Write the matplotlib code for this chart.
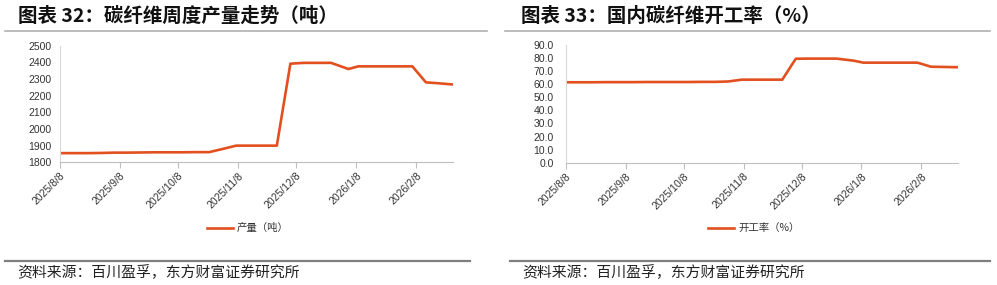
import matplotlib
matplotlib.use("Agg")
import matplotlib.pyplot as plt
import matplotlib.dates as mdates
from matplotlib.lines import Line2D
import datetime as dt

plt.rcParams['font.family'] = ['Liberation Sans', 'Noto Sans CJK SC', 'DejaVu Sans']

dates = ["2025-08-08", "2025-08-15", "2025-08-22", "2025-08-29", "2025-09-05", "2025-09-12",
         "2025-09-19", "2025-09-26", "2025-10-03", "2025-10-10", "2025-10-17", "2025-10-24",
         "2025-10-31", "2025-11-07", "2025-11-14", "2025-11-21", "2025-11-28", "2025-12-05",
         "2025-12-12", "2025-12-19", "2025-12-26", "2026-01-04", "2026-01-09", "2026-01-16",
         "2026-01-23", "2026-01-30", "2026-02-06", "2026-02-13", "2026-02-20", "2026-02-27"]

output_tons = [1855, 1855, 1855, 1856, 1858, 1858, 1859, 1860, 1860, 1860, 1861, 1861,
               1880, 1900, 1900, 1900, 1900, 2392, 2397, 2397, 2397, 2360, 2376, 2376,
               2376, 2376, 2376, 2280, 2274, 2267]

utilization = [61.5, 61.5, 61.5, 61.6, 61.6, 61.6, 61.7, 61.7, 61.7, 61.7, 61.8, 61.8,
               62.1, 63.5, 63.5, 63.5, 63.5, 79.5, 79.6, 79.6, 79.6, 78.0, 76.5, 76.5,
               76.5, 76.5, 76.5, 73.4, 73.2, 73.0]

tick_dates = ["2025-08-08", "2025-09-08", "2025-10-08", "2025-11-08", "2025-12-08",
              "2026-01-08", "2026-02-08"]
tick_labels = ["2025/8/8", "2025/9/8", "2025/10/8", "2025/11/8", "2025/12/8",
               "2026/1/8", "2026/2/8"]

left_yticks = [1800, 1900, 2000, 2100, 2200, 2300, 2400, 2500]
right_yticks = [0, 10, 20, 30, 40, 50, 60, 70, 80, 90]

title_left = "图表 32：碳纤维周度产量走势（吨）"
title_right = "图表 33：国内碳纤维开工率（%）"
legend_left = "产量（吨）"
legend_right = "开工率（%）"
source = "资料来源：百川盈孚，东方财富证券研究所"

LINE_COLOR = "#E2501F"
W, H = 997, 285

fig = plt.figure(figsize=(W / 100, H / 100), dpi=100)
fig.patch.set_facecolor("white")


def fx(x):
    return x / W


def fy(y):
    return 1 - y / H


def to_dt(s):
    return dt.datetime.strptime(s, "%Y-%m-%d")


xd = [to_dt(d) for d in dates]
tks = [mdates.date2num(to_dt(d)) for d in tick_dates]


def make_panel(x0, x1, ytop, ybot, values, yticks, ylabels, legend_text, legend_x0, ypad):
    ax = fig.add_axes([fx(x0), fy(ybot), fx(x1 - x0), (ybot - ytop) / H])
    ax.plot(xd, values, color=LINE_COLOR, lw=1.9, solid_joinstyle='round')
    ax.set_xlim(xd[0], xd[-1])
    ax.set_ylim(yticks[0], yticks[-1])
    ax.set_yticks(yticks)
    ax.set_yticklabels(ylabels, fontsize=7.5, color="#333333")
    ax.set_xticks(tks)
    ax.set_xticklabels(tick_labels, rotation=45, ha='right', va='top', fontsize=7.5,
                       color="#333333", rotation_mode='anchor')
    for s in ['top', 'right']:
        ax.spines[s].set_visible(False)
    ax.spines['left'].set_color("#d9d9d9")
    ax.spines['bottom'].set_color("#bfbfbf")
    ax.tick_params(axis='y', length=0, pad=ypad)
    ax.tick_params(axis='x', length=4, color="#bfbfbf", pad=2)
    # legend
    ly = 227.5
    fig.add_artist(Line2D([fx(legend_x0), fx(legend_x0 + 26)], [fy(ly), fy(ly)],
                          color=LINE_COLOR, lw=1.9))
    fig.text(fx(legend_x0 + 30), fy(ly), legend_text, fontsize=7.5, va='center', ha='left',
             family=['Noto Sans CJK SC', 'DejaVu Sans'], color="#333333")
    return ax


make_panel(60, 453, 45.7, 162.3, output_tons, left_yticks,
           [str(v) for v in left_yticks], legend_left, 207, 6)
make_panel(566, 958, 45, 162.7, utilization, right_yticks,
           [f"{v:.1f}" for v in right_yticks], legend_right, 708, 9)

# titles
for x, t in [(18, title_left), (521, title_right)]:
    fig.text(fx(x), fy(16), t, fontsize=14, fontweight='bold', va='center', ha='left',
             family=['Noto Sans CJK SC', 'DejaVu Sans'], color="#111111")

# separator lines
for xa, xb in [(5, 487), (505, 990)]:
    fig.add_artist(Line2D([fx(xa), fx(xb)], [fy(30.5), fy(30.5)], color="#b0b0b0", lw=1.2))
for xa, xb in [(5, 470), (510, 990)]:
    fig.add_artist(Line2D([fx(xa), fx(xb)], [fy(261), fy(261)], color="#7f7f7f", lw=1.6))

for x in [17, 522]:
    fig.text(fx(x), fy(272.5), source, fontsize=10.7, va='center', ha='left',
             family=['Noto Sans CJK SC', 'DejaVu Sans'], color="#222222")

fig.savefig("out.png", dpi=100, facecolor="white")
